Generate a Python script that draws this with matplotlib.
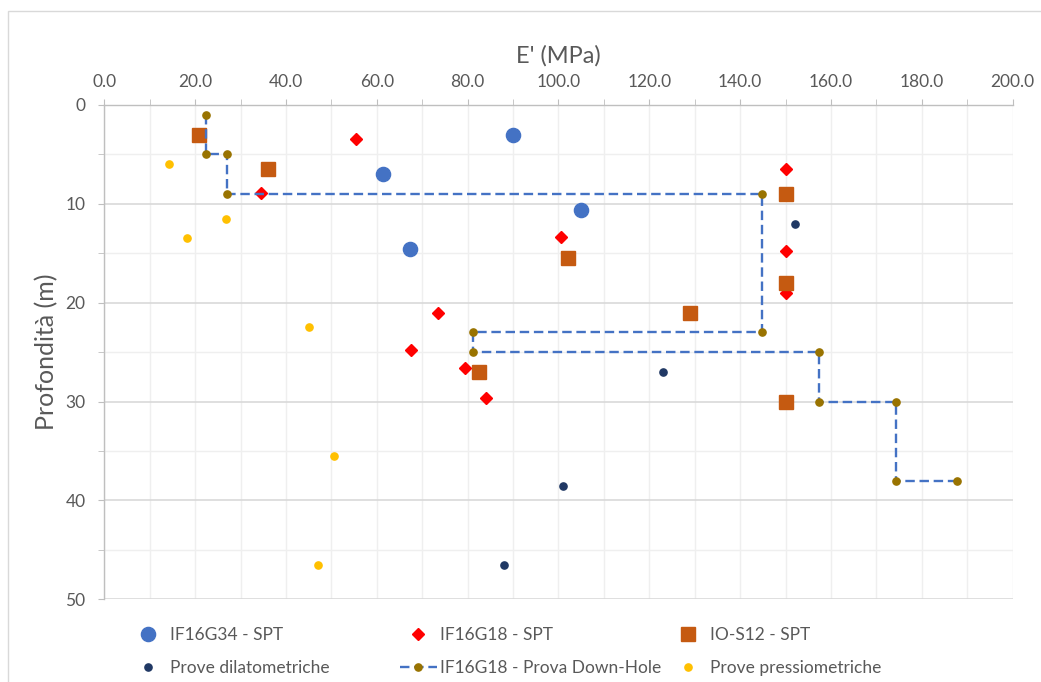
import matplotlib.pyplot as plt
import matplotlib.ticker as mtick
from matplotlib.patches import Rectangle

# E' (MPa) and depth (m) for each data set
g34_e = [90.0, 61.4, 105.0, 67.4]
g34_z = [3.0, 7.0, 10.6, 14.6]

g18_e = [55.5, 34.5, 150.0, 100.5, 150.0, 150.0, 73.5, 67.5, 79.5, 84.0]
g18_z = [3.4, 8.9, 6.5, 13.4, 14.8, 19.0, 21.0, 24.8, 26.6, 29.6]

s12_e = [20.9, 36.0, 150.0, 102.0, 150.0, 129.0, 82.6, 150.0]
s12_z = [3.0, 6.5, 9.0, 15.5, 18.0, 21.0, 27.0, 30.0]

dil_e = [152.0, 123.0, 101.0, 88.0]
dil_z = [12.0, 27.0, 38.5, 46.5]

dh_e = [22.3, 22.3, 27.0, 27.0, 144.7, 144.7, 81.1, 81.1,
        157.4, 157.4, 174.4, 174.4, 187.7]
dh_z = [1.0, 5.0, 5.0, 9.0, 9.0, 23.0, 23.0, 25.0,
        25.0, 30.0, 30.0, 38.0, 38.0]

pre_e = [14.2, 26.7, 18.1, 45.0, 50.6, 47.0]
pre_z = [6.0, 11.5, 13.5, 22.5, 35.5, 46.5]

TEXT = "#595959"
FONT = "Lato"


def style_axes(ax):
    """
    Excel-like axes: x on top, depth going down, light grid
    """
    ax.set_xlim(0, 200)
    ax.set_ylim(50, 0)
    ax.xaxis.tick_top()
    ax.xaxis.set_label_position("top")
    ax.xaxis.set_major_locator(mtick.MultipleLocator(20))
    ax.xaxis.set_minor_locator(mtick.MultipleLocator(10))
    ax.xaxis.set_major_formatter(mtick.FormatStrFormatter("%.1f"))
    ax.yaxis.set_major_locator(mtick.MultipleLocator(10))
    ax.yaxis.set_minor_locator(mtick.MultipleLocator(5))

    ax.grid(which="major", axis="y", color="#D9D9D9", lw=1.2)
    ax.grid(which="minor", axis="y", color="#EFEFEF", lw=1.0)
    ax.grid(which="both", axis="x", color="#EFEFEF", lw=1.0)
    ax.set_axisbelow(True)

    for side in ("right", "bottom"):
        ax.spines[side].set_visible(False)
    for side in ("top", "left"):
        ax.spines[side].set_color("#BFBFBF")
        ax.spines[side].set_linewidth(1.0)

    ax.tick_params(axis="x", which="both", direction="out", length=4,
                   color="#BFBFBF", labelsize=12.5, labelcolor=TEXT, pad=7)
    ax.tick_params(axis="y", which="both", direction="out", length=4.5,
                   color="#BFBFBF", labelsize=12.5, labelcolor=TEXT, pad=9)
    for lab in ax.get_xticklabels() + ax.get_yticklabels():
        lab.set_fontfamily(FONT)

    ax.set_xlabel("E' (MPa)", fontsize=17, color=TEXT, family=FONT,
                  labelpad=8)
    ax.set_ylabel("Profondità (m)", fontsize=18, color=TEXT, family=FONT,
                  labelpad=5)


def main():
    """
    Draw the E' profile versus depth
    """
    fig = plt.figure(figsize=(10.41, 6.82), dpi=100)
    fig.patches.append(Rectangle((8 / 1041, -0.1), 1.2, 1.1 - 11 / 682,
                                 transform=fig.transFigure, fill=False,
                                 edgecolor="#D9D9D9", lw=1.0))
    ax = fig.add_axes([0.1002, 0.1213, 0.8726, 0.7248])

    h1, = ax.plot(g34_e, g34_z, "o", color="#4472C4", ms=10.2,
                  label="IF16G34 - SPT")
    h2, = ax.plot(g18_e, g18_z, "D", color="#FF0000", ms=6.5,
                  label="IF16G18 - SPT")
    h3, = ax.plot(s12_e, s12_z, "s", color="#C55A11", ms=10.5,
                  label="IO-S12 - SPT")
    h4, = ax.plot(dil_e, dil_z, "o", color="#203864", ms=5.2,
                  label="Prove dilatometriche")
    h5, = ax.plot(dh_e, dh_z, "--o", color="#4472C4", lw=1.7,
                  dashes=(4, 2), mfc="#997300", mec="#997300", ms=5.2,
                  label="IF16G18 - Prova Down-Hole")
    h6, = ax.plot(pre_e, pre_z, "o", color="#FFC000", ms=5.2,
                  label="Prove pressiometriche")

    style_axes(ax)

    # one legend per column so the columns line up like Excel's
    col_left = [130, 400, 670]
    for x0, (a, b) in zip(col_left, [(h1, h4), (h2, h5), (h3, h6)]):
        fig.legend(handles=[a, b], loc="upper left",
                   bbox_to_anchor=(x0 / 1041, 1 - 627 / 682),
                   frameon=False, prop={"family": FONT, "size": 12.5},
                   labelcolor=TEXT, handlelength=2.13, handletextpad=0.2,
                   labelspacing=1.0, borderpad=0, borderaxespad=0)

    fig.savefig("out.png", dpi=100)


if __name__ == "__main__":
    main()
